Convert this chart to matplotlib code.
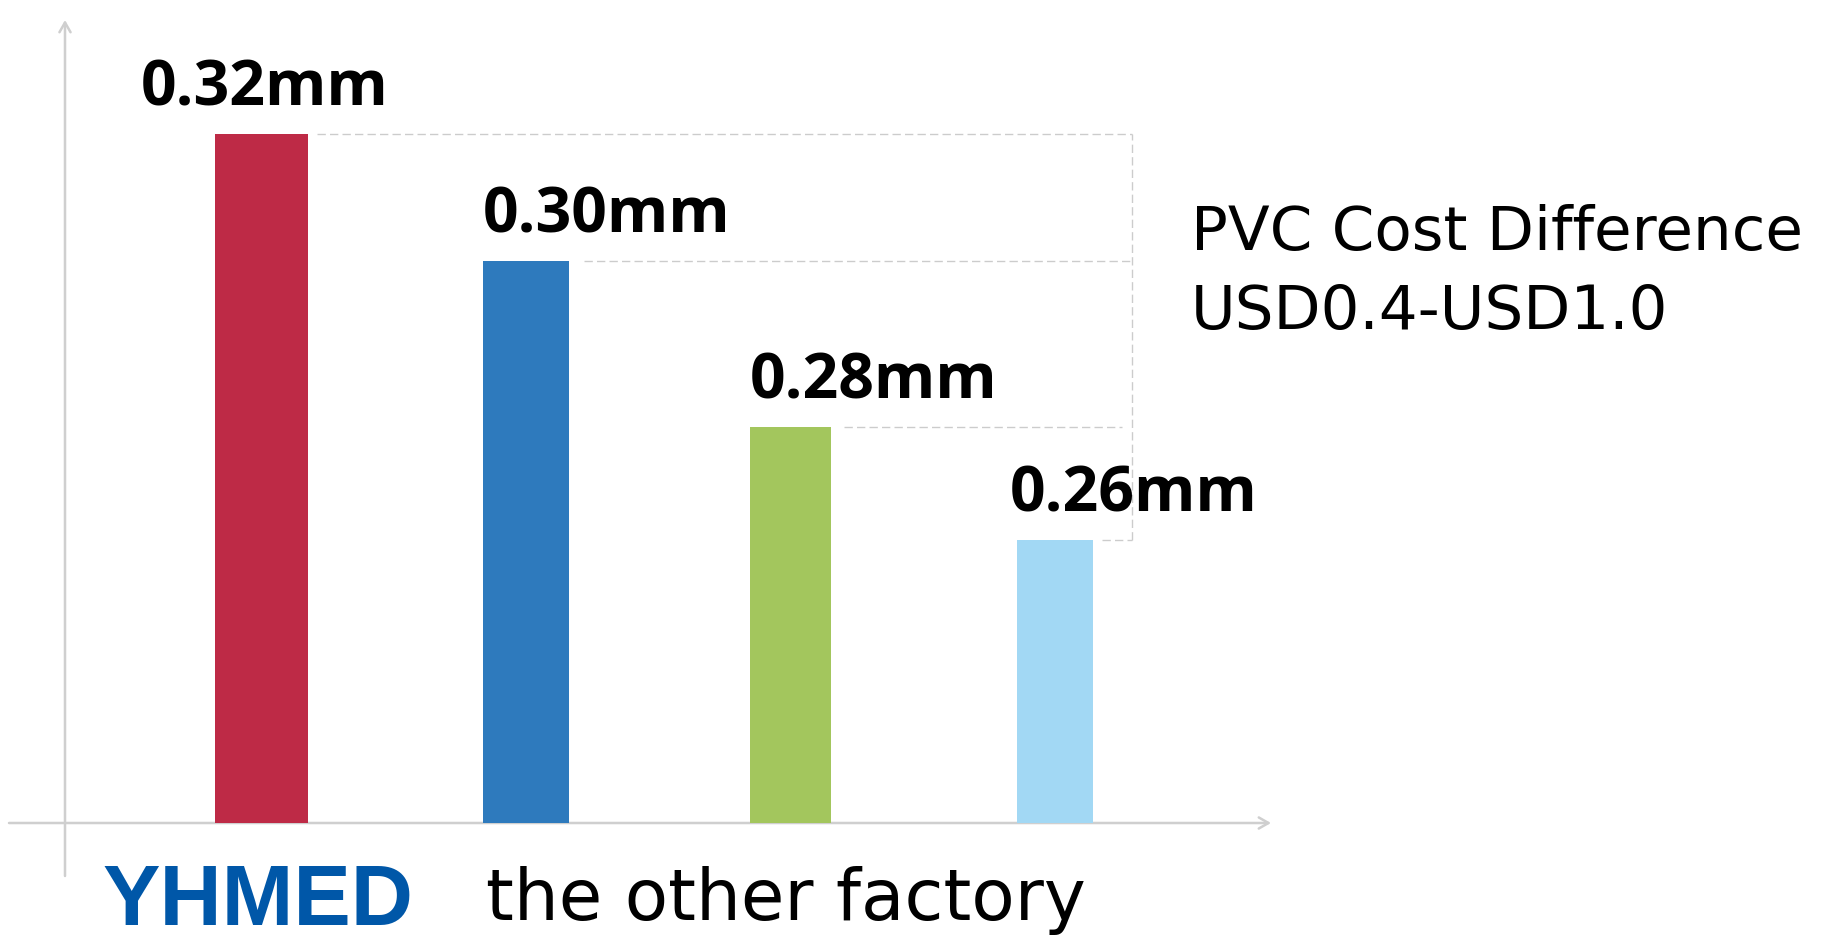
import matplotlib
matplotlib.use("Agg")
import matplotlib.pyplot as plt

# ---- data ----
categories = ["YHMED A", "YHMED B", "other A", "other B"]
thickness_labels = ["0.32mm", "0.30mm", "0.28mm", "0.26mm"]
bar_heights = [6.89, 5.62, 3.96, 2.83]   # drawn heights (arbitrary units)
bar_colors = ["#BE2A46", "#2E7ABD", "#A3C65D", "#A2D8F4"]
note_lines = ["PVC Cost Difference", "USD0.4-USD1.0"]
group_labels = ["YHMED", "the other factory"]

W, H = 1845, 945
fig = plt.figure(figsize=(W / 100, H / 100), dpi=100)
fig.patch.set_facecolor("white")

def fx(x):
    return x / W

def fy(y):
    return 1 - y / H

# axes spanning x-axis line (px 9..1271) and y-axis line (px 21..877)
ax = fig.add_axes([fx(9), fy(877), fx(1271) - fx(9), fy(21) - fy(877)])
x_left = (9 - 261.4) / 264.4
x_right = (1271 - 261.4) / 264.4
ax.set_xlim(x_left, x_right)
ax.set_ylim(-0.53, 8.03)
ax.axis("off")

axis_color = "#CFCFCF"
yaxis_x = (65 - 261.4) / 264.4
# y axis with arrow
ax.annotate("", xy=(yaxis_x, 1.0), xycoords=("data", "axes fraction"),
            xytext=(yaxis_x, 0.0), textcoords=("data", "axes fraction"),
            arrowprops=dict(arrowstyle="->,head_length=0.7,head_width=0.4",
                            color=axis_color, lw=1.8, shrinkA=0, shrinkB=0))
# x axis with arrow
ax.annotate("", xy=(1.0, 0), xycoords=("axes fraction", "data"),
            xytext=(0.0, 0), textcoords=("axes fraction", "data"),
            arrowprops=dict(arrowstyle="->,head_length=0.7,head_width=0.4",
                            color=axis_color, lw=1.8, shrinkA=0, shrinkB=0))

xs = list(range(len(categories)))
widths = [0.352, 0.325, 0.306, 0.287]
ax.bar(xs, bar_heights, width=widths, color=bar_colors, zorder=3)

# dashed guide lines
dash_color = "#CCCCCC"
gaps = [0.034, 0.057, 0.049, 0.034]
ends = [3.293, 3.293, 3.255, 3.293]
for x, h, w, g, e in zip(xs, bar_heights, widths, gaps, ends):
    ax.plot([x + w / 2 + g, e], [h, h], color=dash_color, lw=1.0,
            dashes=(6, 3), zorder=2)
ax.plot([3.293, 3.293], [min(bar_heights), max(bar_heights)], color=dash_color,
        lw=1.0, dashes=(6, 3), zorder=2)

# value labels
label_ha = ["center", "left", "left", "left"]
label_dx = [3, 0, 0, -7]  # pixels
for x, h, w, t, ha, dx in zip(xs, bar_heights, widths, thickness_labels, label_ha, label_dx):
    xpos = x if ha == "center" else x - w / 2
    ax.annotate(t, xy=(xpos, h), xytext=(dx * 0.72, 29 * 0.72), textcoords="offset points",
                ha=ha, va="baseline", fontsize=45, fontweight="bold",
                family=["Open Sans", "DejaVu Sans"], color="black", zorder=4)

# note text
for line, base in zip(note_lines, [250, 329]):
    fig.text(fx(1191), fy(base), line, ha="left", va="baseline", fontsize=44,
             family=["DejaVu Sans"], color="black")

# group labels
fig.text(fx(102), fy(925), group_labels[0], ha="left", va="baseline", fontsize=62,
         fontweight="bold", family=["Liberation Sans Narrow", "Liberation Sans", "DejaVu Sans"],
         color="#0057A8")
fig.text(fx(486), fy(920), group_labels[1], ha="left", va="baseline", fontsize=51,
         family=["DejaVu Sans"], color="black")

fig.savefig("out.png", dpi=100, facecolor="white")
